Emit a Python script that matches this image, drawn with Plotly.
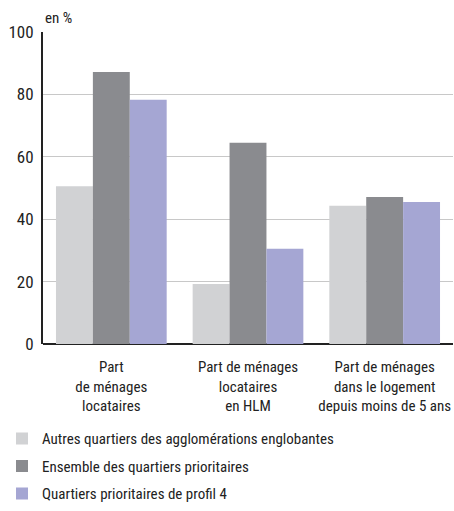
import plotly.graph_objects as go

categories = ["Part<br>de ménages<br>locataires",
              "Part de ménages<br>locataires<br>en HLM",
              "Part de ménages<br>dans le logement<br>depuis moins de 5 ans"]
series_names = ["Autres quartiers des agglomérations englobantes",
                "Ensemble des quartiers prioritaires",
                "Quartiers prioritaires de profil 4"]
autres = [50.6, 19.2, 44.3]
ensemble = [87.2, 64.5, 47.1]
profil4 = [78.3, 30.5, 45.5]
colors = ["#d1d2d4", "#8a8b8f", "#a5a6d3"]
y_ticks = [0, 20, 40, 60, 80, 100]

FONT = "Liberation Sans Narrow, Roboto Condensed, Arial Narrow, Liberation Sans, sans-serif"

fig = go.Figure()
for name, vals, c in zip(series_names, [autres, ensemble, profil4], colors):
    fig.add_trace(go.Bar(x=categories, y=vals, name=name, marker_color=c,
                         marker_line_width=0, legendgroup=name))

fig.update_layout(
    width=454, height=511,
    margin=dict(l=43, r=1, t=32, b=167),
    paper_bgcolor="white", plot_bgcolor="white",
    barmode="group", bargap=0.19, bargroupgap=0,
    font=dict(family=FONT, size=15, color="#222222"),
    showlegend=True,
    legend=dict(orientation="v", x=-0.1, xanchor="left", y=-0.533, yanchor="bottom",
                traceorder="grouped", tracegroupgap=5,
                font=dict(family=FONT, size=15, color="#222222"),
                itemclick=False, bgcolor="rgba(0,0,0,0)"),
    xaxis=dict(showgrid=False, showline=False, ticks="", tickfont=dict(size=15),
               ticklabelstandoff=12, automargin=False),
    yaxis=dict(range=[0, 100], tickvals=y_ticks, showgrid=True, gridcolor="#c8c8c8",
               gridwidth=1, showline=True, linecolor="#222222", linewidth=2,
               ticks="", zeroline=True, zerolinecolor="#222222", zerolinewidth=2,
               tickfont=dict(size=17), ticklabelstandoff=4, automargin=False),
    annotations=[dict(text="en %", xref="paper", yref="paper", x=0, y=1,
                      xanchor="left", yanchor="bottom", showarrow=False, yshift=3,
                      font=dict(family=FONT, size=15, color="#222222"))],
)

fig.write_html("out.html", config={"displayModeBar": False},
               post_script="document.body.style.margin='0';document.body.style.padding='0';")
